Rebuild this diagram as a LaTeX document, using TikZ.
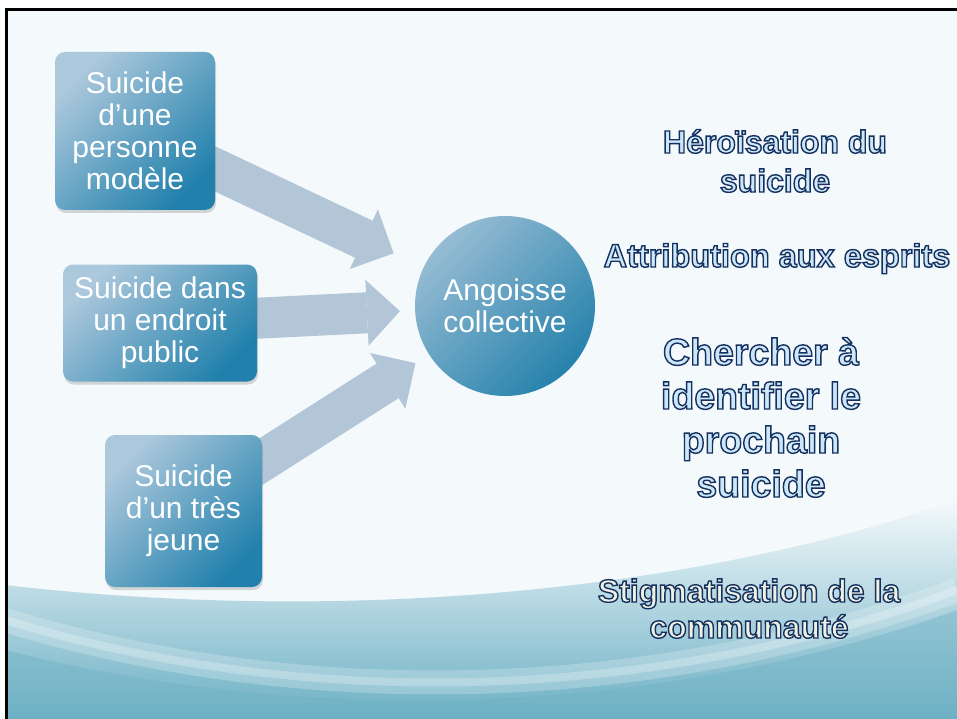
\documentclass[tikz,border=0pt]{standalone}
\usepackage{fontspec}
\setmainfont{Liberation Sans}
\usetikzlibrary{arrows.meta,shadows,calc}
\definecolor{bgin}{RGB}{244,249,251}
\definecolor{bgmid}{RGB}{214,234,240}
\definecolor{tealA}{RGB}{108,176,196}
\definecolor{tealB}{RGB}{112,178,197}
\definecolor{boxl}{RGB}{172,200,220}
\definecolor{boxd}{RGB}{34,129,172}
\definecolor{circl}{RGB}{150,188,212}
\definecolor{circd}{RGB}{38,130,172}
\definecolor{arrc}{RGB}{178,198,216}
\definecolor{olf}{RGB}{204,231,248}
\definecolor{olg}{RGB}{238,240,226}
\newcommand\olin[2][olf]{{\color{#1}\special{pdf:literal direct 0.086 0.188 0.376 RG 1.4 w 2 Tr}#2\special{pdf:literal direct 0 Tr}}}
\pgfdeclarelayer{bg}
\pgfsetlayers{bg,main}
\begin{document}
\begin{tikzpicture}[x=1pt,y=-1pt,
  box/.style={rectangle, rounded corners=10pt, top color=boxl, bottom color=boxd, shading angle=45,
    text=white, font=\fontsize{30}{32}\selectfont, align=center, inner sep=0pt,
    drop shadow={opacity=0.3, shadow xshift=1pt, shadow yshift=-3pt}},
  circ/.style={circle, top color=circl, bottom color=circd, shading angle=45,
    text=white, font=\fontsize{30}{32}\selectfont, align=center, inner sep=0pt, minimum size=180pt},
  bigarrow/.style={draw=arrc, line width=41pt, line cap=butt,
    -{Triangle[length=33pt, width=66pt, line width=0pt, fill=arrc]}},
  rt/.style={align=center, anchor=base, inner sep=0pt}]
\useasboundingbox (0,0) rectangle (957,719);

\node[box, minimum width=160pt, minimum height=158pt] (b1) at (135,131) {Suicide\\d’une\\personne\\modèle};
\node[box, minimum width=194pt, minimum height=117pt] (b2) at (160,323) {Suicide dans\\un endroit\\public};
\node[box, minimum width=157pt, minimum height=152pt] (b3) at (183.5,511) {Suicide\\d’un très\\jeune};
\node[circ] (c) at (505,306) {Angoisse\\collective};

\node[rt, font=\bfseries\fontsize{32}{39}\selectfont] (t1) at (775,192) {\olin{Héroïsation du}\\\olin{suicide}};
\node[rt, font=\bfseries\fontsize{32.5}{39}\selectfont] (t2) at (777,267) {\olin{Attribution aux esprits}};
\node[rt, font=\bfseries\fontsize{37.5}{44}\selectfont] (t3) at (761,497) {\olin{Chercher à}\\\olin{identifier le}\\\olin{prochain}\\\olin{suicide}};
\node[rt, font=\bfseries\fontsize{32}{36}\selectfont] (t4) at (749,638) {\olin[olg]{Stigmatisation de la}\\\olin[olg]{communauté}};

\begin{pgfonlayer}{bg}
  \fill[white] (0,0) rectangle (957,719);
  \fill[bgin] (5,8) rectangle (957,719);
  \shade[top color=bgin, middle color=bgmid, bottom color=tealA] (5,585) .. controls (350,625) and (700,590) .. (957,500) -- (957,719) -- (5,719) -- cycle;
  \fill[tealB, opacity=0.45] (5,650) .. controls (300,725) and (650,720) .. (957,610) -- (957,719) -- (5,719) -- cycle;
  \draw[white, opacity=0.22, line width=24pt] (5,620) .. controls (300,710) and (650,705) .. (957,590);
  \draw[white, opacity=0.25, line width=8pt] (5,620) .. controls (300,710) and (650,705) .. (957,590);
  \fill[black] (5,8) rectangle (957,11);
  \fill[black] (5,8) rectangle (8,719);
  \draw[bigarrow, shorten >=33pt] (b1.center) -- (c);
  \draw[bigarrow, shorten >=15pt] (b2.center) -- (c);
  \draw[bigarrow, shorten >=16pt] (b3.center) -- (c);
\end{pgfonlayer}
\end{tikzpicture}
\end{document}
